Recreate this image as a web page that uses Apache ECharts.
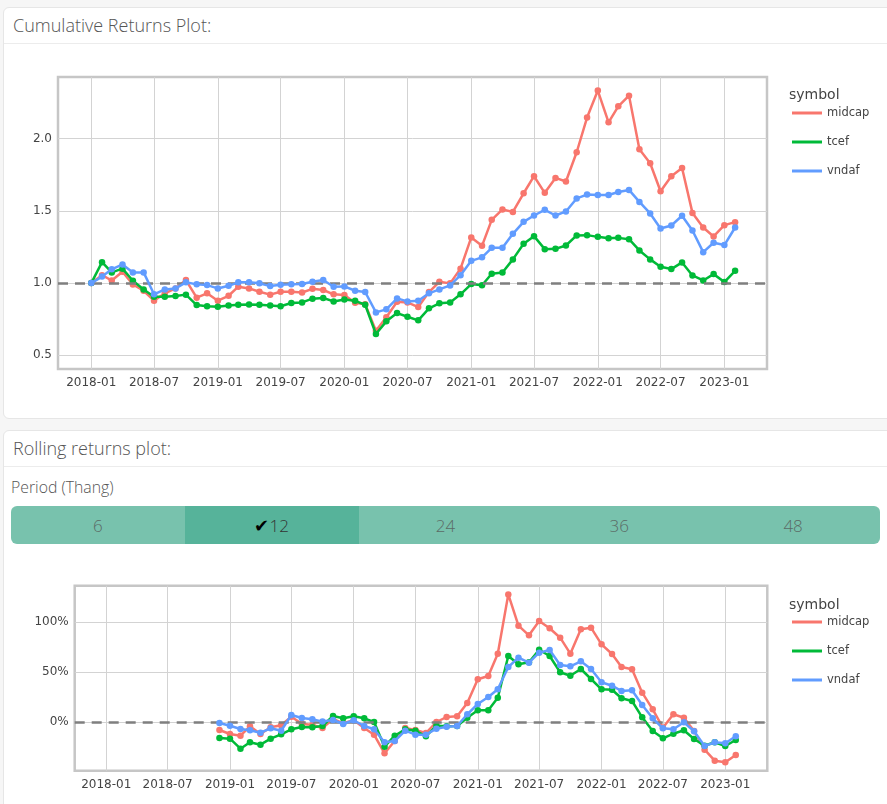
<!DOCTYPE html>
<html>
<head>
<meta charset="utf-8">
<script src="https://cdn.jsdelivr.net/npm/echarts@6/dist/echarts.min.js"></script>
<style>
  html, body { margin:0; padding:0; background:#f6f6f6; width:887px; height:804px; overflow:hidden; font-family:"Open Sans", sans-serif; }
  .panel { position:absolute; left:3px; width:900px; background:#fff; border:1px solid #e6e6e6; border-radius:6px; }
  .hdr { position:absolute; left:0; top:0; right:0; height:35px; border-bottom:1px solid #ececec; }
  .hdr span { position:absolute; left:9px; top:5px; font-size:18px; color:#555; font-weight:300; }
  #lbl { position:absolute; left:11px; top:476px; font-size:15.8px; color:#555; font-weight:300; }
  #btns { position:absolute; left:11px; top:506px; width:869px; height:38px; border-radius:6px; overflow:hidden; background:#78c2ad; display:flex; }
  #btns div { flex:1; display:flex; align-items:center; justify-content:center; font-size:17px; color:#5b6b66; font-weight:300; }
  #btns div.act { background:#56b39a; color:#333; }
  #c1 { position:absolute; left:0; top:43px; width:887px; height:375px; }
  #c2 { position:absolute; left:0; top:550px; width:887px; height:254px; }
</style>
</head>
<body>
<div class="panel" style="top:7px;height:410px;"><div class="hdr"><span>Cumulative Returns Plot:</span></div></div>
<div class="panel" style="top:430px;height:400px;"><div class="hdr"><span>Rolling returns plot:</span></div></div>
<div id="lbl">Period (Thang)</div>
<div id="btns"></div>
<div id="c1"></div>
<div id="c2"></div>
<script>
// ---------- data ----------
const periods = ['6', '12', '24', '36', '48'];
const activePeriod = '12';
const symbols = ['midcap', 'tcef', 'vndaf'];

const cumMonths = [
 '2018-01','2018-02','2018-03','2018-04','2018-05','2018-06','2018-07','2018-08','2018-09','2018-10','2018-11','2018-12',
 '2019-01','2019-02','2019-03','2019-04','2019-05','2019-06','2019-07','2019-08','2019-09','2019-10','2019-11','2019-12',
 '2020-01','2020-02','2020-03','2020-04','2020-05','2020-06','2020-07','2020-08','2020-09','2020-10','2020-11','2020-12',
 '2021-01','2021-02','2021-03','2021-04','2021-05','2021-06','2021-07','2021-08','2021-09','2021-10','2021-11','2021-12',
 '2022-01','2022-02','2022-03','2022-04','2022-05','2022-06','2022-07','2022-08','2022-09','2022-10','2022-11','2022-12',
 '2023-01','2023-02'];

const cumMidcap = [
 1.00,1.055,1.018,1.078,0.99,0.947,0.878,0.929,0.963,1.021,0.899,0.929,
 0.878,0.912,0.975,0.963,0.94,0.92,0.94,0.94,0.935,0.96,0.952,0.922,
 0.917,0.864,0.853,0.67,0.763,0.871,0.866,0.834,0.938,1.009,0.998,1.10,
 1.316,1.258,1.438,1.51,1.493,1.622,1.74,1.625,1.728,1.703,1.906,2.146,
 2.333,2.113,2.224,2.298,1.927,1.83,1.636,1.74,1.797,1.486,1.385,1.323,
 1.401,1.422];
const cumTcef = [
 1.00,1.145,1.074,1.10,1.016,0.956,0.905,0.905,0.91,0.92,0.848,0.839,
 0.836,0.845,0.85,0.852,0.85,0.845,0.84,0.862,0.866,0.892,0.897,0.873,
 0.886,0.877,0.85,0.647,0.735,0.792,0.767,0.742,0.825,0.86,0.866,0.922,
 0.993,0.985,1.065,1.073,1.164,1.272,1.325,1.235,1.237,1.26,1.33,1.332,
 1.32,1.311,1.313,1.304,1.226,1.164,1.113,1.097,1.143,1.053,1.018,1.062,
 1.007,1.085];
const cumVndaf = [
 1.00,1.045,1.095,1.129,1.074,1.074,0.922,0.956,0.963,1.005,0.991,0.986,
 0.963,0.981,1.005,1.005,0.998,0.979,0.988,0.991,0.993,1.009,1.021,0.975,
 0.977,0.947,0.938,0.797,0.818,0.894,0.873,0.878,0.929,0.956,0.984,1.055,
 1.154,1.178,1.244,1.244,1.341,1.424,1.468,1.507,1.468,1.496,1.586,1.613,
 1.61,1.61,1.631,1.645,1.562,1.482,1.378,1.399,1.466,1.364,1.214,1.279,
 1.263,1.385];

const rollMonths = cumMonths.slice(11); // 2018-12 .. 2023-02
const rollMidcap = [
 -7.7,
 -11.7,-13.4,-4,-11.7,-5,-3,5.6,-1.4,-2.7,-5.7,3.3,-1,
 2,-5.7,-12.4,-31,-18.7,-5.7,-7.7,-10.7,0.3,5.3,6,19.3,
 43,46.3,68.6,127.9,96.6,87,101.3,94,84.6,68.6,93,94.6,
 78,68.3,55.3,53,29.6,13,-5.4,8,4.6,-8.7,-27.4,-38.4,
 -40,-32.7];
const rollTcef = [
 -15.7,
 -16.4,-26.4,-20,-22.4,-16.4,-12,-7,-4.7,-5,-3.7,6.3,4,
 6,4,0.3,-24.4,-13.4,-7,-8.4,-14,-3.4,-4,-3.7,4.6,
 12,12,24.6,66.3,58,60,72.6,66.3,50,46.6,53.3,43.3,
 33,32.6,24,21.3,5,-8.7,-16,-11.4,-8,-16.7,-23.4,-20,
 -23.7,-17.7];
const rollVndaf = [
 -0.7,
 -3.4,-6.7,-8,-10.4,-6,-8.4,7.3,4.3,3,0.7,2.3,-1.7,
 2,-3.7,-7,-20,-18.7,-8.4,-12.4,-12.4,-6.4,-4.4,-3.7,8,
 18.3,25.3,33,55.3,64.6,59.6,69.6,72.3,57.3,56,61,53.3,
 40,36.6,31.3,32,17.3,4,-6,-7,0,-9,-23.7,-20,
 -21,-14];

const xTickLabels = ['2018-01','2018-07','2019-01','2019-07','2020-01','2020-07','2021-01','2021-07','2022-01','2022-07','2023-01'];
const cumYTicks = [0.5, 1.0, 1.5, 2.0];
const rollYTicks = [0, 50, 100];

// ---------- helpers ----------
const colors = ['#F8766D', '#00BA38', '#619CFF'];
const ts = s => { const [y, m] = s.split('-').map(Number); return Date.UTC(y, m - 1, 1); };
const fmtMonth = v => { const d = new Date(v); return d.getUTCFullYear() + '-' + String(d.getUTCMonth() + 1).padStart(2, '0'); };
const xTicks = xTickLabels.map(ts);
const FONT = '"DejaVu Sans", Verdana, sans-serif';

// buttons
const bt = document.getElementById('btns');
periods.forEach(p => {
  const d = document.createElement('div');
  if (p === activePeriod) { d.className = 'act'; d.innerHTML = '<span style="color:#000;font-size:18px">\u2714</span>' + p; }
  else d.textContent = p;
  bt.appendChild(d);
});

function makeOption(grid, xMin, xMax, yMin, yMax, yTicks, yFmt, months, seriesData, refY, legendTop, titleTop) {
  const lines = symbols.map((s, i) => ({
    name: s, type: 'line', data: months.map((m, k) => [ts(m), seriesData[i][k]]),
    symbol: 'circle', symbolSize: 6.5, showSymbol: true,
    lineStyle: { width: 2.5, color: colors[i] }, itemStyle: { color: colors[i] },
    z: 3 + i
  }));
  lines.unshift({
    name: 'ref', type: 'line', data: [], z: 1,
    markLine: {
      silent: true, symbol: 'none', label: { show: false },
      lineStyle: { type: [10, 7], color: '#7f7f7f', width: 2.5 },
      data: [{ yAxis: refY }]
    }
  });
  return {
    animation: false,
    grid: Object.assign({ show: true, backgroundColor: '#fff', borderColor: '#c6c6c6', borderWidth: 2.5 }, grid),
    title: { text: 'symbol', left: 784, top: titleTop, textStyle: { fontFamily: FONT, fontSize: 14, fontWeight: 'normal', color: '#444' } },
    legend: {
      orient: 'vertical', left: 787, top: legendTop, icon: 'rect', itemWidth: 30, itemHeight: 3, itemGap: 15,
      textStyle: { fontFamily: FONT, fontSize: 11.5, color: '#444', lineHeight: 14 },
      data: symbols
    },
    xAxis: {
      type: 'value', min: xMin, max: xMax,
      axisLine: { show: false }, axisTick: { show: false, customValues: xTicks },
      axisLabel: { customValues: xTicks, formatter: v => fmtMonth(v), fontFamily: FONT, fontSize: 12, color: '#444', margin: 8, hideOverlap: false },
      splitLine: { show: true, lineStyle: { color: '#d3d3d3', width: 1 } }
    },
    yAxis: {
      type: 'value', min: yMin, max: yMax,
      axisLine: { show: false }, axisTick: { show: false, customValues: yTicks },
      axisLabel: { customValues: yTicks, formatter: yFmt, fontFamily: FONT, fontSize: 12, color: '#444', margin: 6 },
      splitLine: { show: true, lineStyle: { color: '#d3d3d3', width: 1 } }
    },
    series: lines
  };
}

const c1 = echarts.init(document.getElementById('c1'));
c1.setOption(makeOption(
  { left: 58, top: 34, width: 709, height: 292 },
  Date.UTC(2017, 8, 27), Date.UTC(2023, 4, 4),
  0.405, 2.427, cumYTicks, v => v.toFixed(1),
  cumMonths, [cumMidcap, cumTcef, cumVndaf], 1, 58, 40));

const c2 = echarts.init(document.getElementById('c2'));
c2.setOption(makeOption(
  { left: 74.7, top: 35.7, width: 692.6, height: 185 },
  Date.UTC(2017, 8, 30), Date.UTC(2023, 4, 5),
  -48.4, 136.6, rollYTicks, v => v + '%',
  rollMonths, [rollMidcap, rollTcef, rollVndaf], 0, 60, 43));
</script>
</body>
</html>
